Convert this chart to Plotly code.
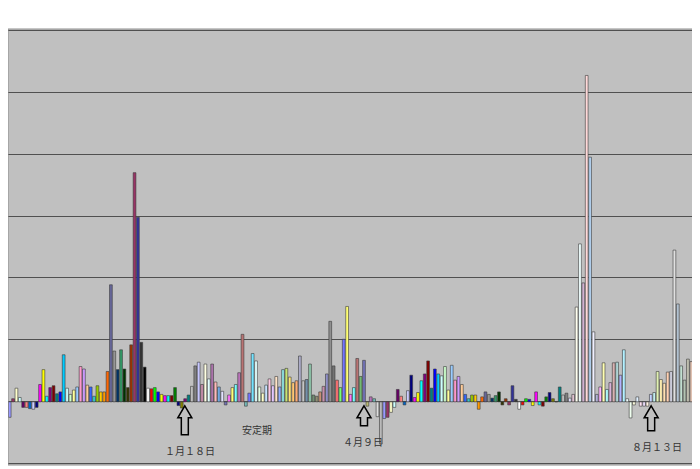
import plotly.graph_objects as go

# daily values, one bar per trading day (grid step = 10)
values = [
    -2.5, 0.5, 2.2, 0.7, -0.9, -0.9, -1.1, -1.2, -0.9, 2.8,
    5.2, 0.9, 2.3, 2.6, 1.3, 1.6, 7.6, 2.2, 1.2, 1.9,
    2.4, 5.7, 5.3, 2.7, 2.4, 0.9, 2.6, 1.6, 1.6, 4.9,
    18.9, 8.2, 5.2, 8.4, 5.3, 2.3, 9.2, 37.0, 29.8, 9.6,
    5.6, 2.2, 2.1, 2.3, 1.6, 1.2, 1.0, 1.0, 1.0, 2.3,
    -0.6, -1.0, 0.5, 1.1, 2.5, 5.8, 6.4, 2.8, 6.1, 3.7,
    6.1, 3.2, 2.4, 1.7, -0.5, 1.1, 2.3, 2.8, 4.7, 10.9,
    -0.7, 1.4, 7.8, 6.6, 2.4, 1.4, 2.7, 3.7, 2.6, 4.1,
    2.4, 5.2, 5.4, 4.0, 3.1, 3.4, 7.4, 3.4, 3.6, 6.1,
    1.1, 0.9, 1.6, 2.5, 4.5, 13.0, 5.8, 3.5, 2.3, 10.1,
    15.4, 1.2, 2.3, 7.0, 4.1, 6.7, -0.7, 0.8, 0.5, -2.4,
    -6.8, -2.7, -2.5, -1.7, -0.9, 2.0, 0.9, -0.5, 1.8, 4.3,
    0.7, 1.5, 3.4, 4.5, 6.6, 2.2, 5.3, 4.5, 4.2, 5.7,
    1.9, 5.9, 3.5, 4.1, 2.8, 1.2, 0.5, 1.1, 1.1, -1.2,
    0.8, 1.6, 1.2, 0.6, 1.0, 1.6, -0.5, 0.5, -0.5, 2.6,
    0.4, -1.2, -0.5, 0.5, 0.4, -0.6, 1.6, -0.5, -0.7, 0.8,
    1.5, 0.5, 0.0, 2.4, 1.1, 1.4, 0.6, 1.2, 15.3, 25.5,
    19.2, 52.7, 39.5, 11.3, 1.2, 2.4, 6.3, 2.0, 3.1, 6.3,
    6.4, 4.3, 8.4, 0.5, -2.6, -0.5, 0.8, -0.7, -0.7, -0.7,
    1.2, 1.5, 4.9, 3.6, 3.0, 4.8, 4.9, 24.5, 15.8, 5.8,
    3.5, 6.9, 6.5,
]
days = list(range(1, len(values) + 1))

# labelled days (bar number) and the text under them
mark_days = [52.9, 106.0, 191.1]
mark_labels = ["１月１８日", "４月９日", "８月１３日"]
period_label = "安定期"

# old Excel 56-colour palette, points get coloured in turn
pal = ['#000000', '#FFFFFF', '#FF0000', '#00FF00', '#0000FF', '#FFFF00', '#FF00FF', '#00FFFF',
       '#800000', '#008000', '#000080', '#808000', '#800080', '#008080', '#C0C0C0', '#808080',
       '#9999FF', '#993366', '#FFFFCC', '#CCFFFF', '#660066', '#FF8080', '#0066CC', '#CCCCFF',
       '#000080', '#FF00FF', '#FFFF00', '#00FFFF', '#800080', '#800000', '#008080', '#0000FF',
       '#00CCFF', '#CCFFFF', '#CCFFCC', '#FFFF99', '#99CCFF', '#FF99CC', '#CC99FF', '#FFCC99',
       '#3366FF', '#33CCCC', '#99CC00', '#FFCC00', '#FF9900', '#FF6600', '#666699', '#969696',
       '#003366', '#339966', '#003300', '#333300', '#993300', '#993366', '#333399', '#333333']
tints = [0.0, 0.45, 0.0, 0.7]


def tint(hexcol, t):
    r, g, b = (int(hexcol[k:k + 2], 16) for k in (1, 3, 5))
    r, g, b = (round(c + (255 - c) * t) for c in (r, g, b))
    return f'rgb({r},{g},{b})'


colors = []
for i in range(len(values)):
    j = i + (0 if i < 97 else 1 if i < 151 else 2)
    colors.append(tint(pal[(16 + j) % 56], tints[min(j // 56, 3)]))

fig = go.Figure(go.Bar(
    x=days,
    y=values,
    marker=dict(color=colors, line=dict(color='#3a3a3a', width=0.6)),
))

# hollow block arrows under the baseline
arrow_len = [33, 24, 29]
for d, ln in zip(mark_days, arrow_len):
    fig.add_shape(
        type='path', xref='x', yref='y', xsizemode='pixel', ysizemode='pixel',
        xanchor=d, yanchor=0,
        path=f'M 0,-4 L 7,-16 L 3.5,-16 L 3.5,-{ln} L -3.5,-{ln} L -3.5,-16 L -7,-16 Z',
        line=dict(color='black', width=1.5), fillcolor='rgba(0,0,0,0)',
    )

txt_font = dict(family='Noto Sans CJK JP', size=10, color='#333333')
fig.add_annotation(x=54.4, y=-7.9, text=mark_labels[0], showarrow=False, font=txt_font)
fig.add_annotation(x=105.7, y=-6.4, text=mark_labels[1], showarrow=False, font=txt_font)
fig.add_annotation(x=192.9, y=-7.2, text=mark_labels[2], showarrow=False, font=txt_font)
fig.add_annotation(x=74.2, y=-4.5, text=period_label, showarrow=False, font=txt_font)

# plot area frame
fig.add_shape(type='rect', xref='paper', yref='paper', x0=0, x1=1, y0=0, y1=1,
              line=dict(color='#8c8c8c', width=1), layer='above')

# page body adds 8px, so the figure is a bit smaller than the window
fig.update_layout(
    width=692, height=461,
    margin=dict(l=0, r=7, t=21, b=4),
    paper_bgcolor='white',
    plot_bgcolor='#C0C0C0',
    bargap=0.18,
    showlegend=False,
    xaxis=dict(range=[0.5, len(values) + 0.5], showticklabels=False, showgrid=False,
               zeroline=False, ticks=''),
    yaxis=dict(range=[-10.2, 60.2], dtick=10, showticklabels=False, showgrid=True,
               gridcolor='#505050', gridwidth=1, zeroline=True, zerolinecolor='#505050',
               zerolinewidth=1, ticks=''),
)

fig.write_html("out.html")
